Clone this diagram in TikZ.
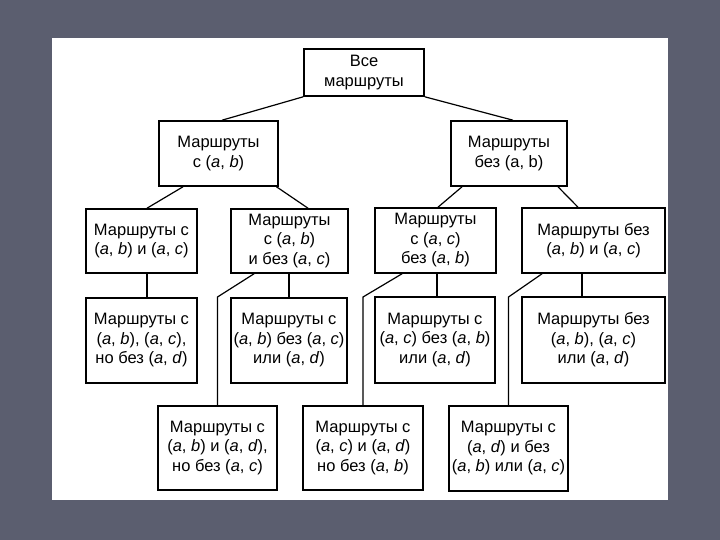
\documentclass[tikz,border=0pt]{standalone}
\usepackage{fontspec}
\setmainfont{Liberation Sans}
\definecolor{slide}{HTML}{5B5E6F}
\newcommand{\mypair}[2]{(\textit{#1}, \textit{#2})}
\tikzset{
  box/.style={draw=black, line width=1.6pt, fill=white, inner sep=0pt, align=center,
    font=\fontsize{16.5}{19.5}\selectfont, text=black},
  link/.style={draw=black, line width=1.2pt},
}
\begin{document}
\begin{tikzpicture}[x=1pt,y=-1pt]
\useasboundingbox (0,0) rectangle (720,540);
\fill[slide] (0,0) rectangle (720,540);
\fill[white] (52,38) rectangle (668,500);

\node[box, minimum width=120pt, minimum height=47pt] (root) at (364,72.5) {Все\\маршруты};
\node[box, minimum width=119pt, minimum height=65pt] (L1a) at (218.5,153.5) {Маршруты\\с \mypair{a}{b}};
\node[box, minimum width=116pt, minimum height=65pt] (L1b) at (509,153.5) {Маршруты\\без (a, b)};

\node[box, minimum width=111pt, minimum height=64pt] (A) at (141.5,241) {Маршруты с\\\mypair{a}{b} и \mypair{a}{c}};
\node[box, minimum width=117pt, minimum height=64pt] (B) at (289.5,241) {Маршруты\\с \mypair{a}{b}\\и без \mypair{a}{c}};
\node[box, minimum width=121pt, minimum height=65pt] (C) at (435.5,240.5) {Маршруты\\с \mypair{a}{c}\\без \mypair{a}{b}};
\node[box, minimum width=143pt, minimum height=65pt] (D) at (593.5,240.5) {Маршруты без\\\mypair{a}{b} и \mypair{a}{c}};

\node[box, minimum width=111pt, minimum height=85pt] (E) at (141.5,340.5) {Маршруты с\\\mypair{a}{b}, \mypair{a}{c},\\но без \mypair{a}{d}};
\node[box, minimum width=116pt, minimum height=85pt] (F) at (289,340.5) {Маршруты с\\\mypair{a}{b} без \mypair{a}{c}\\или \mypair{a}{d}};
\node[box, minimum width=120pt, minimum height=86pt] (G) at (435,340) {Маршруты с\\\mypair{a}{c} без \mypair{a}{b}\\или \mypair{a}{d}};
\node[box, minimum width=143pt, minimum height=86pt] (H) at (593.5,340) {Маршруты без\\\mypair{a}{b}, \mypair{a}{c}\\или \mypair{a}{d}};

\node[box, minimum width=119pt, minimum height=84pt] (I) at (217.5,448) {Маршруты с\\\mypair{a}{b} и \mypair{a}{d},\\но без \mypair{a}{c}};
\node[box, minimum width=120pt, minimum height=84pt] (J) at (363,448) {Маршруты с\\\mypair{a}{c} и \mypair{a}{d}\\но без \mypair{a}{b}};
\node[box, minimum width=119pt, minimum height=85pt] (K) at (508.5,448.5) {Маршруты с\\\mypair{a}{d} и без\\\mypair{a}{b} или \mypair{a}{c}};

\coordinate (bI) at (217.5,297);
\coordinate (bJ) at (363,297);
\coordinate (bK) at (508.5,297);

\draw[link] (root.south west) -- ([xshift=3.5pt]L1a.north);
\draw[link] (root.south east) -- ([xshift=4pt]L1b.north);
\draw[link] ([xshift=-35.5pt]L1a.south) -- ([xshift=5.5pt]A.north);
\draw[link] ([xshift=58pt]L1a.south) -- ([xshift=18.5pt]B.north);
\draw[link] ([xshift=-47pt]L1b.south) -- ([xshift=2.5pt]C.north);
\draw[link] ([xshift=49pt]L1b.south) -- ([xshift=-15.5pt]D.north);

\draw[link] ([xshift=5.5pt]A.south) -- ([xshift=5.5pt]E.north);
\draw[link] (F.north |- B.south) -- (F.north);
\draw[link] ([xshift=1.5pt]C.south) -- ([xshift=2pt]G.north);
\draw[link] ([xshift=-11.5pt]D.south) -- ([xshift=-11.5pt]H.north);

\draw[link] ([xshift=-35.5pt]B.south) -- (bI) -- (I.north);
\draw[link] ([xshift=-33.5pt]C.south) -- (bJ) -- (J.north);
\draw[link] ([xshift=-51.5pt]D.south) -- (bK) -- (K.north);
\end{tikzpicture}
\end{document}
